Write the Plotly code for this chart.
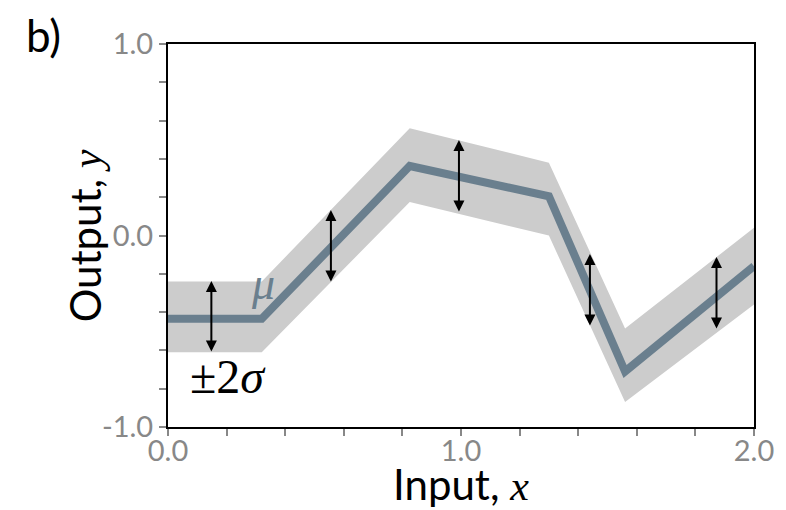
import plotly.graph_objects as go

# Piecewise-linear mean and its ±2σ envelope at the knot positions
x_knots = [0.0, 0.32, 0.825, 1.30, 1.56, 2.0]
mu = [-0.435, -0.435, 0.363, 0.205, -0.71, -0.16]
upper = [-0.24, -0.24, 0.56, 0.38, -0.485, 0.04]
lower = [-0.61, -0.61, 0.175, 0.0, -0.87, -0.36]

# Double-headed arrows marking the ±2σ spread
arrow_x = [0.148, 0.556, 0.993, 1.44, 1.872]
arrow_hi = [-0.238, 0.133, 0.499, -0.097, -0.112]
arrow_lo = [-0.614, -0.248, 0.117, -0.478, -0.493]

# Axis ticks
tick_vals = [0.0, 0.2, 0.4, 0.6, 0.8, 1.0, 1.2, 1.4, 1.6, 1.8, 2.0]
x_tick_text = ["0.0", "", "", "", "", "1.0", "", "", "", "", "2.0"]
y_tick_vals = [-1.0, -0.8, -0.6, -0.4, -0.2, 0.0, 0.2, 0.4, 0.6, 0.8, 1.0]
y_tick_text = ["-1.0", "", "", "", "", "0.0", "", "", "", "", "1.0"]

LINE_COLOR = "#6a7f8e"
BAND_COLOR = "#cccccc"
SANS = "Lato"
SERIF = "Liberation Serif"
MATH = "<span style=\"font-family:'Liberation Serif';font-style:italic\">{}</span>"

fig = go.Figure()

# Envelope: upper edge then lower edge reversed, filled
fig.add_trace(go.Scatter(
    x=x_knots + x_knots[::-1],
    y=upper + lower[::-1],
    fill="toself",
    fillcolor=BAND_COLOR,
    line=dict(width=0),
    mode="lines",
    hoverinfo="skip",
    showlegend=False,
))

fig.add_trace(go.Scatter(
    x=x_knots, y=mu,
    mode="lines",
    line=dict(color=LINE_COLOR, width=8),
    showlegend=False,
))

annotations = []
for ax_x, lo, hi in zip(arrow_x, arrow_lo, arrow_hi):
    annotations.append(dict(
        x=ax_x, y=hi, ax=ax_x, ay=lo,
        xref="x", yref="y", axref="x", ayref="y",
        text="", showarrow=True,
        arrowhead=2, startarrowhead=2, arrowside="end+start",
        arrowsize=1.1, startarrowsize=1.1, arrowwidth=2, arrowcolor="black",
    ))

annotations += [
    dict(x=0.325, y=-0.25, xref="x", yref="y", showarrow=False,
         xanchor="center", yanchor="middle",
         text=MATH.format("μ"), font=dict(family=SERIF, size=46, color=LINE_COLOR)),
    dict(x=0.205, y=-0.735, xref="x", yref="y", showarrow=False,
         xanchor="center", yanchor="middle",
         text="±2" + MATH.format("σ"), font=dict(family=SERIF, size=48, color="black")),
    dict(x=-0.212, y=1.023, xref="paper", yref="paper", showarrow=False,
         xanchor="center", yanchor="middle",
         text="b)", font=dict(family=SANS, size=44, color="black")),
    dict(x=0.5, y=-0.148, xref="paper", yref="paper", showarrow=False,
         xanchor="center", yanchor="middle",
         text="Input, " + MATH.format("x"),
         font=dict(family=SANS, size=42, color="black")),
    dict(x=-0.142, y=0.5, xref="paper", yref="paper", showarrow=False,
         textangle=-90, xanchor="center", yanchor="middle",
         text="Output, " + MATH.format("y"),
         font=dict(family=SANS, size=42, color="black")),
]

axis_common = dict(
    showgrid=False, zeroline=False,
    showline=True, linecolor="black", linewidth=2, mirror=True,
    ticks="outside", ticklen=7, tickwidth=1.5, tickcolor="#888888",
    tickfont=dict(family=SANS, size=29, color="#888888"),
)

fig.update_layout(
    width=786, height=510,
    margin=dict(l=168, r=24, t=44, b=83),
    paper_bgcolor="white", plot_bgcolor="white",
    xaxis=dict(range=[0, 2], tickvals=tick_vals, ticktext=x_tick_text,
               ticklabelstandoff=-10, **axis_common),
    yaxis=dict(range=[-1, 1], tickvals=y_tick_vals, ticktext=y_tick_text, **axis_common),
    annotations=annotations,
    showlegend=False,
)

fig.write_html("out.html")
